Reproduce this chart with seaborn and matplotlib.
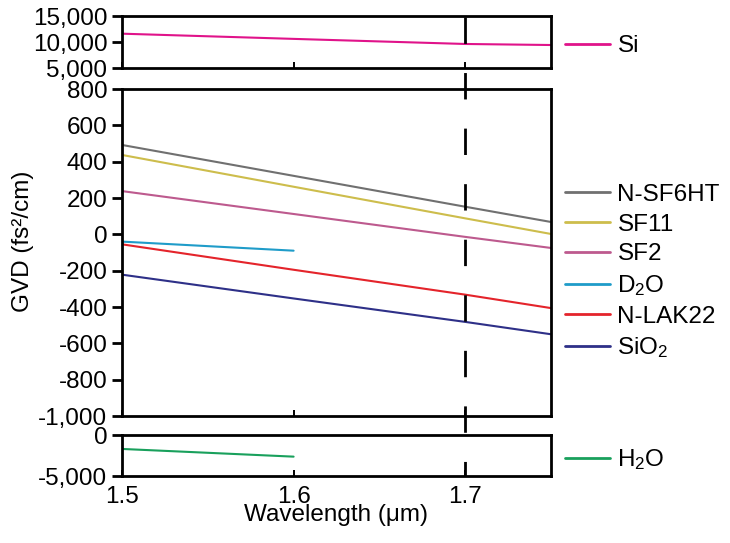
import numpy as np
import pandas as pd
import matplotlib
matplotlib.use("Agg")
import matplotlib.pyplot as plt
import seaborn as sns
from matplotlib.lines import Line2D
from matplotlib.ticker import FixedLocator, FuncFormatter
import matplotlib.transforms as mtransforms

# ---------------- data ----------------
wavelength = [1.5, 1.6, 1.7, 1.75]
wavelength_short = [1.5, 1.6]

si = [11600, 10600, 9620, 9420]
n_sf6ht = [492, 322, 152, 68]
sf11 = [437, 262, 88, 2]
sf2 = [238, 112, -14, -75]
d2o = [-40, -90]
n_lak22 = [-55, -195, -332, -406]
sio2 = [-222, -353, -482, -550]
h2o = [-1700, -2640]

top_labels = ["Si"]
mid_labels = ["N-SF6HT", "SF11", "SF2", "D$_\\mathregular{2}$O", "N-LAK22", "SiO$_\\mathregular{2}$"]
bot_labels = ["H$_\\mathregular{2}$O"]

colors = {
    "Si": "#e0138a",
    "N-SF6HT": "#707070",
    "SF11": "#cdbd4c",
    "SF2": "#bd5a8e",
    "D$_\\mathregular{2}$O": "#1f9cc9",
    "N-LAK22": "#e4242b",
    "SiO$_\\mathregular{2}$": "#2e3088",
    "H$_\\mathregular{2}$O": "#19a05c",
}

top_ticks = [5000, 10000, 15000]
mid_ticks = list(range(-1000, 801, 200))
bot_ticks = [-5000, 0]
x_ticks = [1.5, 1.6, 1.7]

# ---------------- frames ----------------
def frame(series):
    rows = []
    for name, xs, ys in series:
        for x, y in zip(xs, ys):
            rows.append({"wavelength": x, "gvd": y, "material": name})
    return pd.DataFrame(rows)

df_top = frame([("Si", wavelength, si)])
df_mid = frame([
    (mid_labels[0], wavelength, n_sf6ht),
    (mid_labels[1], wavelength, sf11),
    (mid_labels[2], wavelength, sf2),
    (mid_labels[3], wavelength_short, d2o),
    (mid_labels[4], wavelength, n_lak22),
    (mid_labels[5], wavelength, sio2),
])
df_bot = frame([(bot_labels[0], wavelength_short, h2o)])

# ---------------- style ----------------
sns.set_theme(style="white")
plt.rcParams["font.family"] = ["Liberation Sans", "DejaVu Sans"]
plt.rcParams["mathtext.fontset"] = "custom"
plt.rcParams["mathtext.rm"] = "Liberation Sans"
plt.rcParams["mathtext.it"] = "Liberation Sans:italic"
plt.rcParams["mathtext.bf"] = "Liberation Sans:bold"
plt.rcParams["axes.unicode_minus"] = False
plt.rcParams["lines.scale_dashes"] = False

FS = 17.5

fig = plt.figure(figsize=(7.3, 5.43), dpi=100)
L, W = 122 / 730, (551 - 122) / 730
H = 543
ax_top = fig.add_axes([L, 1 - 68 / H, W, 52 / H])
ax_mid = fig.add_axes([L, 1 - 416 / H, W, 327 / H])
ax_bot = fig.add_axes([L, 1 - 476 / H, W, 41 / H])

lw = 1.5
sns.lineplot(data=df_top, x="wavelength", y="gvd", hue="material",
             hue_order=top_labels, palette=colors, ax=ax_top, linewidth=lw,
             legend=False, estimator=None, sort=False)
sns.lineplot(data=df_mid, x="wavelength", y="gvd", hue="material",
             hue_order=mid_labels, palette=colors, ax=ax_mid, linewidth=lw,
             legend=False, estimator=None, sort=False)
sns.lineplot(data=df_bot, x="wavelength", y="gvd", hue="material",
             hue_order=bot_labels, palette=colors, ax=ax_bot, linewidth=lw,
             legend=False, estimator=None, sort=False)

fmt = FuncFormatter(lambda v, p: f"{v:,.0f}")
for ax, ticks in ((ax_top, top_ticks), (ax_mid, mid_ticks), (ax_bot, bot_ticks)):
    ax.set_xlim(1.5, 1.75)
    ax.set_ylim(ticks[0], ticks[-1])
    ax.yaxis.set_major_locator(FixedLocator(ticks))
    ax.yaxis.set_major_formatter(fmt)
    ax.xaxis.set_major_locator(FixedLocator(x_ticks))
    for s in ax.spines.values():
        s.set_visible(True)
        s.set_color("black")
        s.set_linewidth(2.0)
    ax.tick_params(axis="y", direction="out", length=7.5, width=2.0,
                   labelsize=FS, colors="black", pad=3, left=True)
    ax.tick_params(axis="x", direction="in", length=4, width=1.4,
                   labelsize=FS, colors="black", bottom=True)
    ax.set_xlabel("")
    ax.set_ylabel("")
    ax.grid(False)

ax_top.tick_params(axis="x", labelbottom=False)
ax_mid.tick_params(axis="x", labelbottom=False)
ax_bot.tick_params(axis="x", pad=7.5)

ax_mid.set_ylabel("GVD (fs\u00b2/cm)", fontsize=FS, color="black")
ax_mid.yaxis.set_label_coords(-0.205, 0.535)
ax_bot.set_xlabel("Wavelength (\u03bcm)", fontsize=FS, color="black", labelpad=-3)

# ---------------- legends ----------------
def add_legend(ax, labels, y_anchor):
    handles = [Line2D([], [], color=colors[l], linewidth=2) for l in labels]
    leg = ax.legend(handles, labels, loc="center left",
                    bbox_to_anchor=(1.033, y_anchor), frameon=False,
                    fontsize=FS, handlelength=1.85, handletextpad=0.3,
                    labelspacing=0.32, borderaxespad=0, borderpad=0)
    for t in leg.get_texts():
        t.set_color("black")
    return leg

add_legend(ax_top, top_labels, 0.42)
add_legend(ax_mid, mid_labels, 0.44)
add_legend(ax_bot, bot_labels, 0.40)

# ---------------- dashed reference line at 1.7 ----------------
trans = mtransforms.blended_transform_factory(ax_mid.transData, fig.transFigure)
dash = Line2D([1.7, 1.7], [1 - 17 / H, 1 - 476 / H], transform=trans,
              color="black", linewidth=2.0, dashes=(19, 21))
fig.add_artist(dash)

fig.savefig("out.png", dpi=100)
